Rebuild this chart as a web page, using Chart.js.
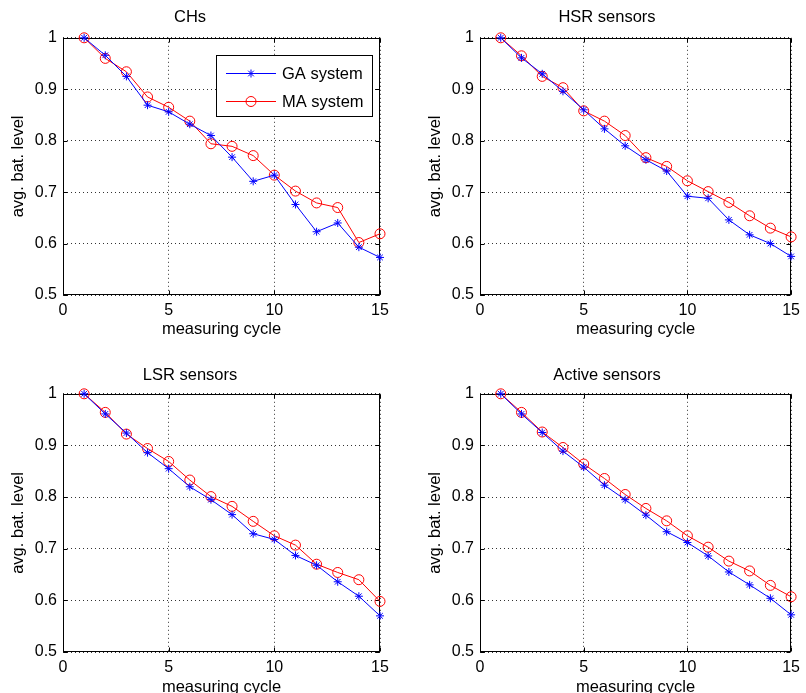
<!DOCTYPE html>
<html>
<head>
<meta charset="utf-8">
<script src="https://cdn.jsdelivr.net/npm/chart.js@4.4.0/dist/chart.umd.min.js"></script>
<style>
  body { margin: 0; background: #fff; width: 806px; height: 693px; overflow: hidden; position: relative; }
  canvas { position: absolute; }
</style>
</head>
<body>
<canvas id="c0" width="400" height="340" style="left:0;top:0"></canvas>
<canvas id="c1" width="389" height="340" style="left:417px;top:0"></canvas>
<canvas id="c2" width="400" height="360" style="left:0;top:340px"></canvas>
<canvas id="c3" width="389" height="360" style="left:417px;top:340px"></canvas>
<script>
const cycles = [1, 2, 3, 4, 5, 6, 7, 8, 9, 10, 11, 12, 13, 14, 15];
const seriesNames = ['GA system', 'MA system'];
const titles = ['CHs', 'HSR sensors', 'LSR sensors', 'Active sensors'];
const xTicks = [0, 5, 10, 15];
const yTicks = [0.5, 0.6, 0.7, 0.8, 0.9, 1];

const chsGA = [1, 0.966, 0.925, 0.869, 0.856, 0.832, 0.810, 0.768, 0.721, 0.733, 0.676, 0.623, 0.640, 0.593, 0.573];
const chsMA = [1, 0.960, 0.934, 0.885, 0.865, 0.838, 0.794, 0.789, 0.771, 0.733, 0.702, 0.679, 0.670, 0.602, 0.619];
const hsrGA = [1, 0.961, 0.930, 0.896, 0.860, 0.823, 0.790, 0.763, 0.741, 0.692, 0.688, 0.646, 0.617, 0.600, 0.575];
const hsrMA = [1, 0.965, 0.925, 0.903, 0.858, 0.838, 0.810, 0.767, 0.750, 0.722, 0.701, 0.680, 0.654, 0.630, 0.613];
const lsrGA = [1, 0.961, 0.924, 0.886, 0.855, 0.820, 0.795, 0.766, 0.729, 0.718, 0.687, 0.668, 0.636, 0.608, 0.570];
const lsrMA = [1, 0.964, 0.922, 0.894, 0.869, 0.833, 0.801, 0.782, 0.753, 0.725, 0.707, 0.670, 0.654, 0.640, 0.598];
const actGA = [1, 0.961, 0.925, 0.889, 0.858, 0.823, 0.795, 0.765, 0.733, 0.712, 0.686, 0.655, 0.630, 0.604, 0.572];
const actMA = [1, 0.964, 0.926, 0.896, 0.864, 0.836, 0.805, 0.778, 0.754, 0.725, 0.703, 0.676, 0.657, 0.629, 0.607];

const panelData = [[chsGA, chsMA], [hsrGA, hsrMA], [lsrGA, lsrMA], [actGA, actMA]];

const FONT = 'Liberation Sans, Arial, Helvetica, sans-serif';
const blue = 'rgb(0,0,255)';
const red = 'rgb(255,0,0)';

// box around the axes plus small inward ticks, matlab style
const framePlugin = {
  id: 'frame',
  beforeDatasetsDraw(chart) {
    const { ctx, chartArea: a, scales } = chart;
    const L = Math.round(a.left) + 0.5, R = Math.round(a.right) - 0.5;
    const T = Math.round(a.top) + 0.5, B = Math.round(a.bottom) - 0.5;
    ctx.save();
    ctx.strokeStyle = '#000';
    ctx.lineWidth = 1;
    ctx.beginPath();
    xTicks.forEach(v => {
      const x = Math.round(scales.x.getPixelForValue(v)) + 0.5;
      ctx.moveTo(x, B); ctx.lineTo(x, B - 4);
      ctx.moveTo(x, T); ctx.lineTo(x, T + 4);
    });
    yTicks.forEach(v => {
      const y = Math.round(scales.y.getPixelForValue(v)) + 0.5;
      ctx.moveTo(L, y); ctx.lineTo(L + 4, y);
      ctx.moveTo(R, y); ctx.lineTo(R - 4, y);
    });
    ctx.stroke();
    ctx.strokeRect(L, T, R - L, B - T);
    ctx.restore();
  }
};

const legendPlugin = {
  id: 'boxLegend',
  afterDraw(chart) {
    if (!chart.options.plugins.boxLegend.show) return;
    const ctx = chart.ctx;
    ctx.save();
    ctx.fillStyle = '#fff';
    ctx.fillRect(216.5, 55.5, 156, 61);
    ctx.strokeStyle = '#000';
    ctx.lineWidth = 1;
    ctx.strokeRect(216.5, 55.5, 156, 61);
    const rows = [
      { y: 73, color: blue, style: 'star', r: 4 },
      { y: 101, color: red, style: 'circle', r: 5 }
    ];
    rows.forEach((row, i) => {
      ctx.strokeStyle = row.color;
      ctx.lineWidth = 1;
      ctx.beginPath();
      ctx.moveTo(226, row.y + 0.5);
      ctx.lineTo(276, row.y + 0.5);
      ctx.stroke();
      ctx.fillStyle = 'rgba(0,0,0,0)';
      Chart.helpers.drawPoint(ctx, { pointStyle: row.style, radius: row.r, borderWidth: 1, rotation: 0 }, 251, row.y + 0.5);
      ctx.fillStyle = '#000';
      ctx.font = '16.5px ' + FONT;
      ctx.textBaseline = 'middle';
      ctx.textAlign = 'left';
      ctx.fillText(seriesNames[i], 282, row.y + 1);
    });
    ctx.restore();
  }
};

function makePanel(idx) {
  const top = idx < 2;
  const right = idx % 2 === 1;
  const [ga, ma] = panelData[idx];
  const toXY = arr => cycles.map((c, i) => ({ x: c, y: arr[i] }));

  new Chart(document.getElementById('c' + idx), {
    type: 'line',
    data: {
      datasets: [
        {
          label: seriesNames[0],
          data: toXY(ga),
          borderColor: blue,
          backgroundColor: 'rgba(0,0,0,0)',
          borderWidth: 1,
          pointStyle: 'star',
          pointRadius: 4,
          pointBorderWidth: 1,
          pointBorderColor: blue,
          tension: 0,
          clip: false
        },
        {
          label: seriesNames[1],
          data: toXY(ma),
          borderColor: red,
          backgroundColor: 'rgba(0,0,0,0)',
          borderWidth: 1,
          pointStyle: 'circle',
          pointRadius: 5,
          pointBorderWidth: 1,
          pointBorderColor: red,
          pointBackgroundColor: 'rgba(0,0,0,0)',
          tension: 0,
          clip: false
        }
      ]
    },
    options: {
      responsive: false,
      animation: false,
      events: [],
      layout: { padding: { left: 0, right: right ? 9 : 20, top: 0, bottom: 0 } },
      plugins: {
        legend: { display: false },
        tooltip: { enabled: false },
        boxLegend: { show: idx === 0 },
        title: {
          display: true,
          text: titles[idx],
          color: '#000',
          font: { family: FONT, size: 16.5, weight: 'normal' },
          padding: top ? { top: 8, bottom: 10 } : { top: 26, bottom: 8 }
        }
      },
      scales: {
        x: {
          type: 'linear',
          min: 0,
          max: 15,
          afterBuildTicks: s => { s.ticks = xTicks.map(v => ({ value: v })); },
          afterFit: s => { s.height = top ? 45 : 48; },
          ticks: { color: '#000', font: { family: FONT, size: 16 }, padding: 6, maxRotation: 0, autoSkip: false },
          grid: { color: '#333', lineWidth: 1, drawTicks: false },
          border: { display: false, dash: [1, 3] },
          title: {
            display: true,
            text: 'measuring cycle',
            color: '#000',
            font: { family: FONT, size: 16.5 },
            padding: { top: 0, bottom: top ? 1 : 3 }
          }
        },
        y: {
          type: 'linear',
          min: 0.5,
          max: 1,
          afterBuildTicks: s => { s.ticks = yTicks.map(v => ({ value: v })); },
          afterFit: s => { s.width = 63; },
          ticks: {
            color: '#000',
            font: { family: FONT, size: 16 },
            padding: 6,
            callback: v => String(+v.toFixed(1))
          },
          grid: { color: '#333', lineWidth: 1, drawTicks: false },
          border: { display: false, dash: [1, 3] },
          title: {
            display: true,
            text: 'avg. bat. level',
            color: '#000',
            font: { family: FONT, size: 16.5 },
            padding: { top: 9, bottom: 0 }
          }
        }
      }
    },
    plugins: [framePlugin, legendPlugin]
  });
}

[0, 1, 2, 3].forEach(makePanel);
</script>
</body>
</html>
